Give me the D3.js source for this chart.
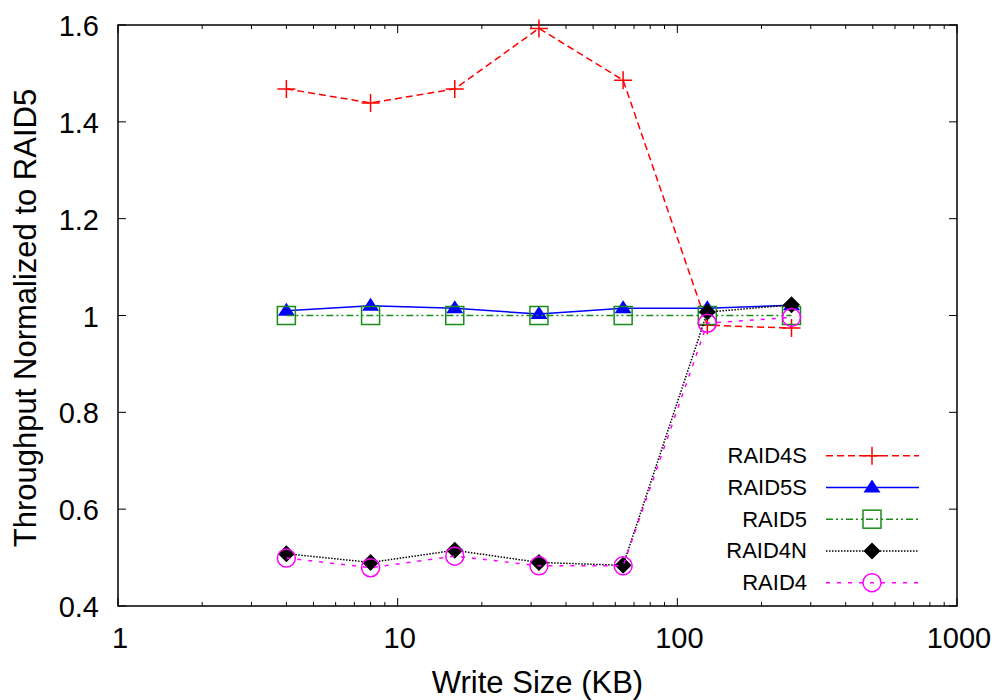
<!DOCTYPE html>
<html>
<head>
<meta charset="utf-8">
<script src="https://cdn.jsdelivr.net/npm/d3@7"></script>
<style>
  body { margin: 0; background: #fff; }
  svg { font-family: "Liberation Sans", Arial, sans-serif; }
</style>
</head>
<body>
<svg id="chart" width="998" height="700"></svg>
<script>
// write sizes (KB)
const sizes = [4, 8, 16, 32, 64, 128, 256];
const raid4s = [1.468, 1.439, 1.468, 1.593, 1.486, 0.98, 0.974];
const raid5s = [1.010, 1.020, 1.015, 1.003, 1.015, 1.015, 1.021];
const raid5 = [1.0, 1.0, 1.0, 1.0, 1.0, 1.0, 1.0];
const raid4n = [0.508, 0.490, 0.515, 0.490, 0.484, 1.007, 1.022];
const raid4 = [0.499, 0.479, 0.503, 0.483, 0.483, 0.984, 0.996];
const xTicks = [1, 10, 100, 1000];
const yTicks = [0.4, 0.6, 0.8, 1, 1.2, 1.4, 1.6];

const series = [
  { name: "RAID4S", values: raid4s, color: "#ff0000", dash: "7,4", marker: "plus" },
  { name: "RAID5S", values: raid5s, color: "#0000ff", dash: null, marker: "triangle" },
  { name: "RAID5", values: raid5, color: "#1a8c1a", dash: "7,3,2,3,2,3", marker: "square" },
  { name: "RAID4N", values: raid4n, color: "#000000", dash: "1.5,1.5", marker: "diamond" },
  { name: "RAID4", values: raid4, color: "#ff00ff", dash: "4,7", marker: "circle" }
];

const svg = d3.select("#chart");
const L = 118, R = 957, T = 25, B = 606;

const x = d3.scaleLog().domain([1, 1000]).range([L, R]);
const y = d3.scaleLinear().domain([0.4, 1.6]).range([B, T]);

// frame
svg.append("rect").attr("x", L).attr("y", T).attr("width", R - L).attr("height", B - T)
  .attr("fill", "none").attr("stroke", "#000").attr("stroke-width", 1.5);

// x ticks, major + minor, inward and mirrored
const minor = [];
for (let d = 1; d < 1000; d *= 10) for (let k = 2; k <= 9; k++) minor.push(d * k);
const tg = svg.append("g").attr("stroke", "#000").attr("stroke-width", 1);
xTicks.forEach(v => {
  tg.append("line").attr("x1", x(v)).attr("x2", x(v)).attr("y1", B).attr("y2", B - 8);
  tg.append("line").attr("x1", x(v)).attr("x2", x(v)).attr("y1", T).attr("y2", T + 8);
});
minor.forEach(v => {
  tg.append("line").attr("x1", x(v)).attr("x2", x(v)).attr("y1", B).attr("y2", B - 4);
  tg.append("line").attr("x1", x(v)).attr("x2", x(v)).attr("y1", T).attr("y2", T + 4);
});
yTicks.forEach(v => {
  tg.append("line").attr("x1", L).attr("x2", L + 8).attr("y1", y(v)).attr("y2", y(v));
  tg.append("line").attr("x1", R).attr("x2", R - 8).attr("y1", y(v)).attr("y2", y(v));
});

// tick labels
svg.append("g").selectAll("text").data(xTicks).join("text")
  .attr("x", d => x(d) + 2).attr("y", B + 42)
  .attr("text-anchor", "middle").attr("font-size", 29).text(d => d);
svg.append("g").selectAll("text").data(yTicks).join("text")
  .attr("x", L - 19).attr("y", d => y(d) + 11)
  .attr("text-anchor", "end").attr("font-size", 29).text(d => d);

// axis titles
svg.append("text").attr("x", (L + R) / 2).attr("y", 693)
  .attr("text-anchor", "middle").attr("font-size", 31).text("Write Size (KB)");
svg.append("text").attr("transform", `translate(36,318) rotate(-90)`)
  .attr("text-anchor", "middle").attr("font-size", 31).text("Throughput Normalized to RAID5");

function drawMarker(g, type, cx, cy, color) {
  if (type === "plus") {
    g.append("path").attr("d", `M${cx - 9},${cy}H${cx + 9}M${cx},${cy - 9}V${cy + 9}`)
      .attr("stroke", color).attr("stroke-width", 1.5).attr("fill", "none");
  } else if (type === "triangle") {
    g.append("path").attr("d", `M${cx},${cy - 8}L${cx + 8.5},${cy + 5}L${cx - 8.5},${cy + 5}Z`)
      .attr("fill", color);
  } else if (type === "square") {
    g.append("rect").attr("x", cx - 9).attr("y", cy - 9).attr("width", 18).attr("height", 18)
      .attr("fill", "none").attr("stroke", color).attr("stroke-width", 1.5);
  } else if (type === "diamond") {
    g.append("path").attr("d", `M${cx},${cy - 8.5}L${cx + 8.5},${cy}L${cx},${cy + 8.5}L${cx - 8.5},${cy}Z`)
      .attr("fill", color);
  } else if (type === "circle") {
    g.append("circle").attr("cx", cx).attr("cy", cy).attr("r", 9)
      .attr("fill", "none").attr("stroke", color).attr("stroke-width", 1.5);
  }
}

const line = d3.line().x(d => x(d[0])).y(d => y(d[1]));

series.forEach(s => {
  const pts = sizes.map((k, i) => [k, s.values[i]]);
  const g = svg.append("g");
  g.append("path").attr("d", line(pts)).attr("fill", "none")
    .attr("stroke", s.color).attr("stroke-width", 1.5)
    .attr("stroke-dasharray", s.dash);
  pts.forEach(p => drawMarker(g, s.marker, x(p[0]), y(p[1]), s.color));
});

// legend
const lg = svg.append("g");
series.forEach((s, i) => {
  const ly = 455.7 + i * 31.75;
  lg.append("text").attr("x", 807).attr("y", ly + 7.5).attr("text-anchor", "end")
    .attr("font-size", 22).text(s.name);
  lg.append("line").attr("x1", 826).attr("x2", 919).attr("y1", ly).attr("y2", ly)
    .attr("stroke", s.color).attr("stroke-width", 1.5).attr("stroke-dasharray", s.dash);
  drawMarker(lg, s.marker, 872, ly, s.color);
});
</script>
</body>
</html>
